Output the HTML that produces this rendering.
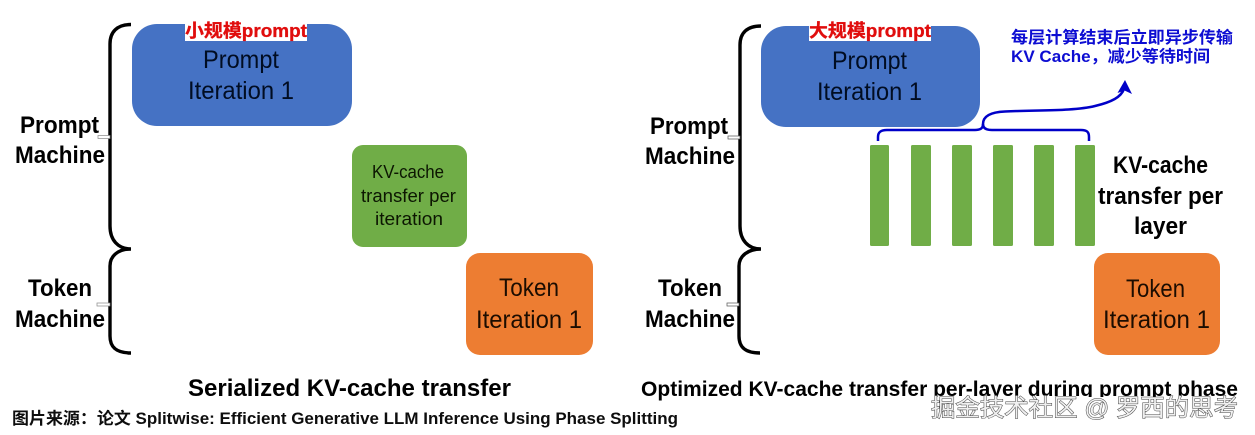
<!DOCTYPE html>
<html><head><meta charset="utf-8">
<style>
html,body{margin:0;padding:0;background:#fff}
svg{display:block}
text{font-family:"Liberation Sans","Noto Sans CJK SC",sans-serif}
.n{font-size:25px;fill:#050d24}
.b{font-size:24px;font-weight:bold;fill:#000}
</style></head><body>
<svg width="1255" height="435" viewBox="0 0 1255 435" xmlns="http://www.w3.org/2000/svg">
<defs><filter id="s" x="-5%" y="-5%" width="110%" height="110%"><feGaussianBlur stdDeviation="0.25"/></filter></defs>
<rect width="1255" height="435" fill="#fff"/>
<g filter="url(#s)">
<!-- left shapes -->
<rect x="132" y="24" width="220" height="102" rx="25" fill="#4472C4"/>
<rect x="352" y="145" width="115" height="102" rx="11" fill="#70AD47"/>
<rect x="466" y="253" width="127" height="102" rx="14" fill="#ED7D31"/>
<g fill="none" stroke="#000" stroke-width="3.4">
<path d="M131 24.500C117 24.500 110 32 110 44V226C110 240 118 249 131 249C118 249 110 256 110 266V336C110 348 117 353 131 353"/>
<path d="M761 26C747 26 740 33 740 45V226C740 240 748 249 761 249C748 249 739 256 739 266V336C739 348 746 353 760 353"/>
</g>
<rect x="98" y="135.500" width="12" height="3" fill="#fff" stroke="#888" stroke-width=".7"/>
<rect x="728" y="136" width="12" height="3" fill="#fff" stroke="#555" stroke-width=".7"/>
<rect x="97" y="303" width="13" height="3" fill="#fff" stroke="#888" stroke-width=".7"/>
<rect x="727" y="303" width="12" height="3" fill="#fff" stroke="#555" stroke-width=".7"/>

<!-- right shapes -->
<rect x="761" y="26" width="219" height="101" rx="25" fill="#4472C4"/>
<g fill="#70AD47">
<rect x="870" y="145" width="19" height="101" rx="1.500"/>
<rect x="911" y="145" width="20" height="101" rx="1.500"/>
<rect x="952" y="145" width="20" height="101" rx="1.500"/>
<rect x="993" y="145" width="20" height="101" rx="1.500"/>
<rect x="1034" y="145" width="20" height="101" rx="1.500"/>
<rect x="1075" y="145" width="20" height="101" rx="1.500"/>
</g>
<rect x="1094" y="253" width="126" height="102" rx="14" fill="#ED7D31"/>

<!-- blue brace + arrow -->
<path d="M878 141V137C878 132 881 130 887 130H975C981 130 983 128 983 124C983 115 993 112 1005 111.500C1040 110 1075 111 1095 106C1112 102 1121 97 1124 89" fill="none" stroke="#0000c8" stroke-width="2.500"/>
<path d="M983 124C983 128 986 130 992 130H1081C1087 130 1089 132 1089 137V141" fill="none" stroke="#0000c8" stroke-width="2.500"/>
<path d="M1125 80L1132 94L1124.500 90.500L1117.500 93Z" fill="#0000c8"/>

<!-- left text -->
<rect x="185" y="24" width="122" height="17" fill="#fff"/>
<text x="185" y="37" font-size="18" font-weight="bold" fill="#e00808" stroke="#e00808" stroke-width=".3" textLength="122" lengthAdjust="spacingAndGlyphs">小规模prompt</text>
<text class="n" x="203" y="68" textLength="76" lengthAdjust="spacingAndGlyphs">Prompt</text>
<text class="n" x="188" y="99" textLength="106" lengthAdjust="spacingAndGlyphs">Iteration 1</text>
<text class="b" x="20" y="133" textLength="79" lengthAdjust="spacingAndGlyphs">Prompt</text>
<text class="b" x="15" y="163" textLength="90" lengthAdjust="spacingAndGlyphs">Machine</text>
<text class="b" x="28" y="296" textLength="64" lengthAdjust="spacingAndGlyphs">Token</text>
<text class="b" x="15" y="327" textLength="90" lengthAdjust="spacingAndGlyphs">Machine</text>
<g font-size="18" fill="#0a1606">
<text x="372" y="178" textLength="72" lengthAdjust="spacingAndGlyphs">KV-cache</text>
<text x="361" y="202" textLength="95" lengthAdjust="spacingAndGlyphs">transfer per</text>
<text x="375" y="225" textLength="68" lengthAdjust="spacingAndGlyphs">iteration</text>
</g>
<g fill="#1c0c04" font-size="25">
<text x="499" y="296" textLength="60" lengthAdjust="spacingAndGlyphs">Token</text>
<text x="476" y="328" textLength="106" lengthAdjust="spacingAndGlyphs">Iteration 1</text>
<text x="1126" y="297" textLength="59" lengthAdjust="spacingAndGlyphs">Token</text>
<text x="1103" y="328" textLength="107" lengthAdjust="spacingAndGlyphs">Iteration 1</text>
</g>

<!-- right text -->
<rect x="809" y="24" width="122" height="17" fill="#fff"/>
<text x="809" y="37" font-size="18" font-weight="bold" fill="#e00808" stroke="#e00808" stroke-width=".3" textLength="122" lengthAdjust="spacingAndGlyphs">大规模prompt</text>
<text class="n" x="832" y="69" textLength="75" lengthAdjust="spacingAndGlyphs">Prompt</text>
<text class="n" x="817" y="100" textLength="105" lengthAdjust="spacingAndGlyphs">Iteration 1</text>
<text class="b" x="650" y="134" textLength="78" lengthAdjust="spacingAndGlyphs">Prompt</text>
<text class="b" x="645" y="164" textLength="90" lengthAdjust="spacingAndGlyphs">Machine</text>
<text class="b" x="658" y="296" textLength="64" lengthAdjust="spacingAndGlyphs">Token</text>
<text class="b" x="645" y="327" textLength="90" lengthAdjust="spacingAndGlyphs">Machine</text>
<text class="b" x="1113" y="173" textLength="95" lengthAdjust="spacingAndGlyphs">KV-cache</text>
<text class="b" x="1098" y="204" textLength="125" lengthAdjust="spacingAndGlyphs">transfer per</text>
<text class="b" x="1134" y="234" textLength="53" lengthAdjust="spacingAndGlyphs">layer</text>
<g font-size="16.500" font-weight="bold" fill="#0a0ad2">
<text x="1011" y="43" textLength="222" lengthAdjust="spacingAndGlyphs">每层计算结束后立即异步传输</text>
<text x="1011" y="62" textLength="199" lengthAdjust="spacingAndGlyphs">KV Cache，减少等待时间</text>
</g>

<!-- captions -->
<text x="188" y="396" font-size="24" font-weight="bold" fill="#000" textLength="323" lengthAdjust="spacingAndGlyphs">Serialized KV-cache transfer</text>
<text x="641" y="396" font-size="21.500" font-weight="bold" fill="#000" textLength="597" lengthAdjust="spacingAndGlyphs">Optimized KV-cache transfer per-layer during prompt phase</text>
<text x="12" y="424" font-size="16.500" font-weight="bold" fill="#111" textLength="666" lengthAdjust="spacingAndGlyphs">图片来源：论文 Splitwise: Efficient Generative LLM Inference Using Phase Splitting</text>

<!-- watermark -->
<rect x="925" y="397" width="315" height="24" fill="#fff"/>
<text x="931" y="416" font-size="24" fill="#f0f0f0" stroke="#444" stroke-width="1" paint-order="stroke" textLength="307" lengthAdjust="spacingAndGlyphs">掘金技术社区 @ 罗西的思考</text>
</g>
</svg>
</body></html>
